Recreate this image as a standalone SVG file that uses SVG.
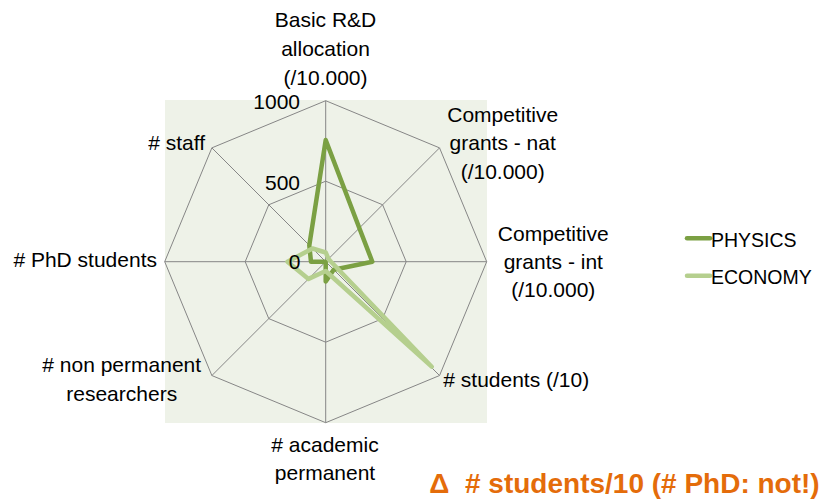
<svg xmlns="http://www.w3.org/2000/svg" width="823" height="501" viewBox="0 0 823 501">
  <style>
    .lbl { font-family: "Liberation Sans", Arial, sans-serif; font-size: 21px; fill: #000; }
    .leg { font-family: "Liberation Sans", Arial, sans-serif; font-size: 19.5px; fill: #000; }
    .grid { fill: none; stroke: #868686; stroke-width: 1; }
    .series { fill: none; stroke-width: 4.5; stroke-linejoin: round; stroke-linecap: round; }
    .phys { stroke: #7BA043; }
    .econ { stroke: #B5CF8E; }
    .note { font-family: "Liberation Sans", Arial, sans-serif; font-size: 28px; font-weight: bold; fill: #E46C0A; }
  </style>
  <rect x="0" y="0" width="823" height="501" fill="#FFFFFF"/>
  <g id="plot-area">
    <rect x="165" y="100" width="322" height="323" fill="#EEF2E8"/>
  </g>
  <g id="grid">
    <polygon class="grid" points="325.7,100.7 439.54,147.86 486.7,261.7 439.54,375.54 325.7,422.7 211.86,375.54 164.7,261.7 211.86,147.86"/>
    <polygon class="grid" points="325.7,181.2 382.62,204.78 406.2,261.7 382.62,318.62 325.7,342.2 268.78,318.62 245.2,261.7 268.78,204.78"/>
    <path class="grid" d="M325.7,261.7 L325.7,100.7 M325.7,261.7 L439.54,147.86 M325.7,261.7 L486.7,261.7 M325.7,261.7 L439.54,375.54 M325.7,261.7 L325.7,422.7 M325.7,261.7 L211.86,375.54 M325.7,261.7 L164.7,261.7 M325.7,261.7 L211.86,147.86"/>
  </g>
  <g id="series">
    <polygon id="physics" class="series phys" points="325.7,140 359.3,228 372.3,261.7 333.7,269.7 325.7,281.5 325.7,261.7 311,261.7 309.3,245.3"/>
    <polygon id="economy" class="series econ" points="325.7,252.5 328.5,258.9 331,261.7 431.7,366.7 325.7,271 308.5,278.9 287.5,261.7 312.5,248.5"/>
  </g>
  <g id="scale-labels">
    <text class="lbl" x="300" y="109" text-anchor="end">1000</text>
    <text class="lbl" x="300" y="190" text-anchor="end">500</text>
    <text class="lbl" x="300.5" y="269" text-anchor="end">0</text>
  </g>
  <g id="axis-labels">
    <text class="lbl" text-anchor="middle"><tspan x="325.5" y="27">Basic R&amp;D</tspan><tspan x="325.5" y="56">allocation</tspan><tspan x="325.5" y="85">(/10.000)</tspan></text>
    <text class="lbl" text-anchor="middle"><tspan x="502.7" y="121.7">Competitive</tspan><tspan x="502.7" y="150.3">grants - nat</tspan><tspan x="502.7" y="179">(/10.000)</tspan></text>
    <text class="lbl" text-anchor="middle"><tspan x="553.3" y="240.7">Competitive</tspan><tspan x="553.3" y="269">grants - int</tspan><tspan x="553.3" y="297.3">(/10.000)</tspan></text>
    <text class="lbl" x="443.3" y="386.7">&#35; students (/10)</text>
    <text class="lbl" text-anchor="middle"><tspan x="325" y="451.7">&#35; academic</tspan><tspan x="325" y="480">permanent</tspan></text>
    <text class="lbl" text-anchor="middle"><tspan x="121.7" y="371.7">&#35; non permanent</tspan><tspan x="121.7" y="400.5">researchers</tspan></text>
    <text class="lbl" x="157" y="267.3" text-anchor="end">&#35; PhD students</text>
    <text class="lbl" x="205" y="150" text-anchor="end">&#35; staff</text>
  </g>
  <g id="legend">
    <line class="series phys" x1="687" y1="238.3" x2="710" y2="238.3" stroke-linecap="butt"/>
    <text class="leg" x="711" y="246.5">PHYSICS</text>
    <line class="series econ" x1="687" y1="275.7" x2="710" y2="275.7" stroke-linecap="butt"/>
    <text class="leg" x="711" y="284">ECONOMY</text>
  </g>
  <g id="note">
    <text class="note" y="493.3"><tspan x="429.3">Δ</tspan><tspan x="465">&#35; students/10 (&#35; PhD: not!)</tspan></text>
  </g>
</svg>
